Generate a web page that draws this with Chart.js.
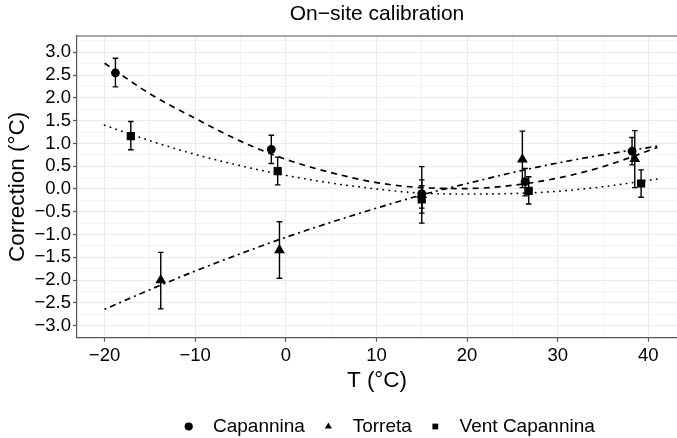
<!DOCTYPE html>
<html>
<head>
<meta charset="utf-8">
<title>On-site calibration</title>
<script src="https://cdn.jsdelivr.net/npm/chart.js@4.4.1/dist/chart.umd.min.js"></script>
<style>
  html, body { margin: 0; padding: 0; background: #fff; }
</style>
</head>
<body>
<canvas id="calChart" width="677" height="438"></canvas>
<script>
// measured points: temperature (°C), correction (°C) and error bar limits
const capT = [-18.8, -1.6, 15.0, 26.4, 38.2];
const capCorr = [2.55, 0.87, -0.10, 0.16, 0.83];
const capLow = [2.24, 0.56, -0.42, -0.15, 0.53];
const capHigh = [2.87, 1.18, 0.20, 0.45, 1.13];

const torT = [-13.8, -0.7, 15.0, 26.1, 38.5];
const torCorr = [-2.00, -1.34, -0.13, 0.65, 0.66];
const torLow = [-2.63, -1.96, -0.75, 0.03, 0.03];
const torHigh = [-1.39, -0.72, 0.49, 1.27, 1.28];

const ventT = [-17.1, -0.9, 15.0, 26.8, 39.2];
const ventCorr = [1.16, 0.39, -0.23, -0.04, 0.12];
const ventLow = [0.86, 0.09, -0.53, -0.33, -0.18];
const ventHigh = [1.48, 0.70, 0.07, 0.27, 0.42];

// fitted curves
const fitT = [-20, -15, -10, -5, 0, 5, 10, 15, 20, 25, 30, 35, 41];
const capFit = [2.76, 2.09, 1.55, 1.05, 0.65, 0.36, 0.14, 0.03, 0.01, 0.08, 0.24, 0.49, 0.91];
const torFit = [-2.64, -2.21, -1.80, -1.42, -1.06, -0.73, -0.42, -0.13, 0.12, 0.36, 0.57, 0.75, 0.94];
const ventFit = [1.40, 1.06, 0.76, 0.51, 0.30, 0.13, 0.00, -0.09, -0.11, -0.10, -0.05, 0.05, 0.22];

// tick labels
const xTickValues = [-20, -10, 0, 10, 20, 30, 40];
const yTickValues = [-3, -2.5, -2, -1.5, -1, -0.5, 0, 0.5, 1, 1.5, 2, 2.5, 3];

const FONT = "'Liberation Sans', Arial, Helvetica, sans-serif";
const minus = s => s.replace('-', '\u2212');

function toPoints(xs, ys) {
    return xs.map((x, i) => ({ x: x, y: ys[i] }));
}

// majors plus a minor line half way between them
function withMinors(values, extra) {
    const ticks = [];
    values.forEach((v, i) => {
        ticks.push({ value: v });
        if (i < values.length - 1) ticks.push({ value: (v + values[i + 1]) / 2, minor: true });
    });
    (extra || []).forEach(v => ticks.push({ value: v, minor: true }));
    return ticks;
}

// error bars are drawn right before their points
const errorBars = {
    id: 'errorBars',
    beforeDatasetDraw(chart, args) {
        const ds = chart.data.datasets[args.index];
        if (!ds.errLow) return;
        const ctx = chart.ctx;
        const x = chart.scales.x, y = chart.scales.y;
        ctx.save();
        ctx.strokeStyle = '#000';
        ctx.lineWidth = 1.4;
        ds.data.forEach((p, i) => {
            const px = x.getPixelForValue(p.x);
            const top = y.getPixelForValue(ds.errHigh[i]);
            const bot = y.getPixelForValue(ds.errLow[i]);
            ctx.beginPath();
            ctx.moveTo(px, top); ctx.lineTo(px, bot);
            ctx.moveTo(px - 2.8, top); ctx.lineTo(px + 2.8, top);
            ctx.moveTo(px - 2.8, bot); ctx.lineTo(px + 2.8, bot);
            ctx.stroke();
        });
        ctx.restore();
    }
};

// top edge of the panel
const panelTop = {
    id: 'panelTop',
    afterDatasetsDraw(chart) {
        const a = chart.chartArea, ctx = chart.ctx;
        ctx.save();
        ctx.strokeStyle = '#555';
        ctx.lineWidth = 1.2;
        ctx.beginPath();
        ctx.moveTo(a.left, a.top);
        ctx.lineTo(a.right, a.top);
        ctx.stroke();
        ctx.restore();
    }
};

// move the legend a little to sit like the original
const legendNudge = {
    id: 'legendNudge',
    afterLayout(chart) {
        const lg = chart.legend;
        if (!lg) return;
        lg.left += 10; lg.right += 10;
        lg.top += 8; lg.bottom += 8;
    }
};

const gridColor = ctx => (ctx.tick && ctx.tick.minor) ? '#f3f3f3' : '#ebebeb';
const tickColor = ctx => (ctx.tick && ctx.tick.minor) ? 'rgba(0,0,0,0)' : '#555';

const pointSet = (label, xs, ys, lo, hi, style, r) => ({
    type: 'scatter',
    label: label,
    data: toPoints(xs, ys),
    errLow: lo,
    errHigh: hi,
    pointStyle: style,
    pointRadius: r,
    pointHoverRadius: r,
    backgroundColor: '#000',
    borderColor: '#000',
    borderWidth: 0
});

const fitSet = (label, ys, dash, cap) => ({
    type: 'line',
    label: label,
    data: toPoints(fitT, ys),
    borderColor: '#000',
    borderWidth: 1.7,
    borderDash: dash,
    borderCapStyle: cap,
    pointRadius: 0,
    fill: false,
    cubicInterpolationMode: 'monotone'
});

new Chart(document.getElementById('calChart'), {
    type: 'scatter',
    data: {
        datasets: [
            pointSet('Capannina', capT, capCorr, capLow, capHigh, 'circle', 4.4),
            pointSet('Torreta', torT, torCorr, torLow, torHigh, 'triangle', 6.2),
            pointSet('Vent Capannina', ventT, ventCorr, ventLow, ventHigh, 'rect', 5.8),
            fitSet('fit Capannina', capFit, [6, 5], 'butt'),
            fitSet('fit Torreta', torFit, [2, 4, 6, 4], 'butt'),
            fitSet('fit Vent Capannina', ventFit, [0.3, 5.8], 'round')
        ]
    },
    options: {
        responsive: false,
        animation: false,
        layout: { padding: 0, autoPadding: false },
        plugins: {
            title: {
                display: true,
                fullSize: false,
                text: 'On\u2212site calibration',
                color: '#000',
                font: { family: FONT, size: 21, weight: 'normal' },
                padding: { top: 2, bottom: 8.8 }
            },
            legend: {
                position: 'bottom',
                fullSize: false,
                labels: {
                    usePointStyle: true,
                    boxWidth: 19,
                    boxHeight: 5.8,
                    padding: 14,
                    color: '#000',
                    font: { family: FONT, size: 19 },
                    filter: item => !item.text.startsWith('fit'),
                    generateLabels: chart => Chart.defaults.plugins.legend.labels.generateLabels(chart)
                        .map(item => Object.assign(item, { text: item.text.startsWith('fit') ? item.text : ' ' + item.text, lineWidth: 0 }))
                }
            },
            tooltip: { enabled: false }
        },
        scales: {
            x: {
                type: 'linear',
                min: -23.04,
                max: 43.16,
                afterBuildTicks: axis => { axis.ticks = withMinors(xTickValues); },
                afterFit: s => { s.height = 57.3; },
                grid: { color: gridColor, lineWidth: 1, tickLength: 4, tickColor: tickColor, tickWidth: 1.2 },
                border: { display: true, color: '#555', width: 1.2 },
                ticks: {
                    autoSkip: false,
                    maxRotation: 0,
                    padding: 3,
                    color: '#000',
                    font: { family: FONT, size: 18.5 },
                    callback: (v, i, ticks) => ticks[i].minor ? '' : minus(String(v))
                },
                title: {
                    display: true,
                    text: 'T (°C)',
                    color: '#000',
                    font: { family: FONT, size: 22.5 },
                    padding: { top: 0, bottom: 1 }
                }
            },
            y: {
                type: 'linear',
                min: -3.263,
                max: 3.357,
                afterBuildTicks: axis => { axis.ticks = withMinors(yTickValues, [-3.25, 3.25]); },
                afterFit: s => { s.width = 77; },
                grid: { color: gridColor, lineWidth: 1, tickLength: 4, tickColor: tickColor, tickWidth: 1.2 },
                border: { display: true, color: '#555', width: 1.2 },
                ticks: {
                    autoSkip: false,
                    padding: 2,
                    color: '#000',
                    font: { family: FONT, size: 18.5 },
                    callback: (v, i, ticks) => ticks[i].minor ? '' : minus(Number(v).toFixed(1))
                },
                title: {
                    display: true,
                    text: 'Correction (°C)',
                    color: '#000',
                    font: { family: FONT, size: 22.5 },
                    padding: { top: 4, bottom: 0 }
                }
            }
        }
    },
    plugins: [errorBars, panelTop, legendNudge]
});
</script>
</body>
</html>
